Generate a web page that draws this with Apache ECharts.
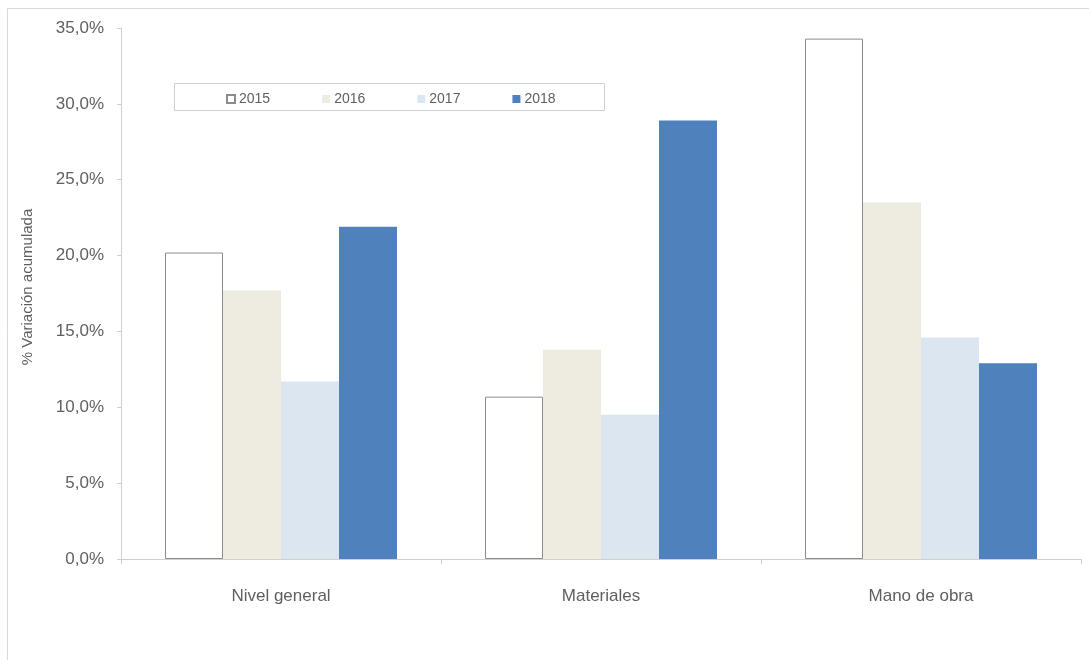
<!DOCTYPE html>
<html>
<head>
<meta charset="utf-8">
<script src="https://cdn.jsdelivr.net/npm/echarts@6/dist/echarts.min.js"></script>
<style>
  html, body { margin: 0; padding: 0; background: #fff; }
  #chart { width: 1089px; height: 660px; }
</style>
</head>
<body>
<div id="chart"></div>
<script>
// Cumulative variation by component and year
const categories = ['Nivel general', 'Materiales', 'Mano de obra'];
const years = ['2015', '2016', '2017', '2018'];
const values2015 = [20.2, 10.7, 34.3];
const values2016 = [17.7, 13.8, 23.5];
const values2017 = [11.7, 9.5, 14.6];
const values2018 = [21.9, 28.9, 12.9];
const axisTitle = '% Variación acumulada';

const seriesValues = [values2015, values2016, values2017, values2018];
const seriesStyles = [
  { color: '#ffffff', borderColor: '#8c8c8c', borderWidth: 1 },
  { color: '#EEEBE0' },
  { color: '#DCE6F1' },
  { color: '#4F81BD' }
];

const fmtPct = v => v.toFixed(1).replace('.', ',') + '%';
const textColor = '#5f5f5f';
const font = 'Liberation Sans, Arial, sans-serif';

const chart = echarts.init(document.getElementById('chart'), null, { renderer: 'canvas' });

chart.setOption({
  animation: false,
  backgroundColor: '#ffffff',
  textStyle: { fontFamily: font },
  graphic: [
    {
      type: 'rect',
      shape: { x: 7.5, y: 8.5, width: 1100, height: 700 },
      style: { fill: 'none', stroke: '#d9d9d9', lineWidth: 1 },
      silent: true, z: -1
    },
    {
      type: 'rect',
      shape: { x: 174.5, y: 83.5, width: 430, height: 27 },
      style: { fill: '#ffffff', stroke: '#d0d0d0', lineWidth: 1 },
      silent: true, z: 5
    },
    {
      type: 'text',
      x: 28, y: 287,
      rotation: Math.PI / 2,
      style: {
        text: axisTitle,
        fill: textColor,
        font: '15px ' + font,
        textAlign: 'center',
        textVerticalAlign: 'middle'
      },
      silent: true
    }
  ],
  legend: {
    data: years.map(y => ({ name: y, icon: 'rect' })),
    left: 221,
    top: 87,
    itemWidth: 8,
    itemHeight: 8,
    itemGap: 52,
    z: 10,
    textStyle: { color: textColor, fontSize: 14, fontFamily: font, padding: [0, 0, 0, -1] }
  },
  grid: { left: 121, right: 8, top: 28, bottom: 101, containLabel: false },
  xAxis: {
    type: 'category',
    data: categories,
    axisLine: { show: true, lineStyle: { color: '#d0d0d0', width: 1 } },
    axisTick: { show: true, length: 5, lineStyle: { color: '#d0d0d0' } },
    axisLabel: { color: textColor, fontSize: 17, margin: 29, fontFamily: font }
  },
  yAxis: {
    type: 'value',
    min: 0,
    max: 35,
    interval: 5,
    axisLine: { show: true, lineStyle: { color: '#d0d0d0', width: 1 } },
    axisTick: { show: true, length: 4, lineStyle: { color: '#d0d0d0' } },
    splitLine: { show: false },
    axisLabel: { color: textColor, fontSize: 17, margin: 17, fontFamily: font, formatter: fmtPct }
  },
  series: years.map((y, i) => ({
    name: y,
    type: 'bar',
    data: seriesValues[i],
    barGap: '0%',
    barCategoryGap: '27.5%',
    itemStyle: seriesStyles[i]
  }))
});
</script>
</body>
</html>
